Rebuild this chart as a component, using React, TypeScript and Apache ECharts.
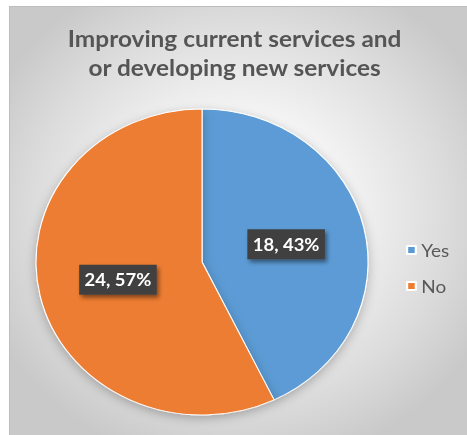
import React, { useEffect, useRef } from "react";
import * as echarts from "echarts";

const titleLines = ["Improving current services and", "or developing new services"];
const categories = ["Yes", "No"];
const values = [18, 24];
const percents = ["43%", "57%"];
const colors = ["#5B9BD5", "#ED7D31"];

const SX = 1.085;

export default function App() {
  const ref = useRef<HTMLDivElement>(null);
  useEffect(() => {
    if (!ref.current) return;
    const chart = echarts.init(ref.current, null, { renderer: "svg" });
    chart.setOption({
      animation: false,
      backgroundColor: "transparent",
      title: {
        text: titleLines.join("\n"),
        left: 207,
        top: 17,
        padding: 0,
        textAlign: "center",
        textStyle: {
          fontFamily: "Lato",
          fontWeight: "bold",
          fontSize: 22.5,
          lineHeight: 29,
          color: "#555555",
        },
      },
      legend: {
        orient: "vertical",
        left: 360,
        top: 229,
        itemWidth: 8,
        itemHeight: 8,
        itemGap: 18,
        icon: "rect",
        data: categories,
        textStyle: {
          fontFamily: "Lato",
          fontSize: 17.5,
          lineHeight: 17,
          color: "#595959",
        },
      },
      series: [
        {
          type: "pie",
          center: [177, 255],
          radius: 153,
          startAngle: 90,
          clockwise: true,
          label: {
            show: true,
            position: "inside",
            formatter: (p: any) => `${p.value}, ${percents[p.dataIndex]}`,
            fontFamily: "Lato",
            fontWeight: "bold",
            fontSize: 17,
            lineHeight: 20,
            color: "#ffffff",
            backgroundColor: "#404040",
            padding: [5, 5, 5, 5],
            shadowColor: "rgba(0,0,0,0.45)",
            shadowBlur: 4,
            shadowOffsetX: 2,
            shadowOffsetY: 3,
          },
          labelLine: { show: false },
          itemStyle: {
            borderColor: "#ffffff",
            borderWidth: 1,
            shadowColor: "rgba(0,0,0,0.25)",
            shadowBlur: 10,
            shadowOffsetY: 3,
          },
          emphasis: { disabled: true },
          data: categories.map((c, i) => ({
            name: c,
            value: values[i],
            itemStyle: { color: colors[i] },
          })),
        },
      ],
    });
    return () => chart.dispose();
  }, []);

  return (
    <div
      style={{
        position: "absolute",
        left: 0,
        top: 0,
        width: 467,
        height: 435,
        background: "#ffffff",
        overflow: "hidden",
      }}
    >
      <div
        style={{
          position: "absolute",
          left: 9,
          top: 6,
          width: 460,
          height: 431,
          boxSizing: "border-box",
          border: "1px solid #bdbdbd",
          background:
            "radial-gradient(ellipse 60% 60% at 50% 48%, #ffffff 0%, #f3f3f3 40%, #dcdcdc 75%, #c9c9c9 100%)",
        }}
      >
        <div
          ref={ref}
          style={{
            position: "absolute",
            left: 0,
            top: 0,
            width: Math.round(458 / SX),
            height: 429,
            transform: `scaleX(${SX})`,
            transformOrigin: "0 0",
          }}
        />
      </div>
    </div>
  );
}
